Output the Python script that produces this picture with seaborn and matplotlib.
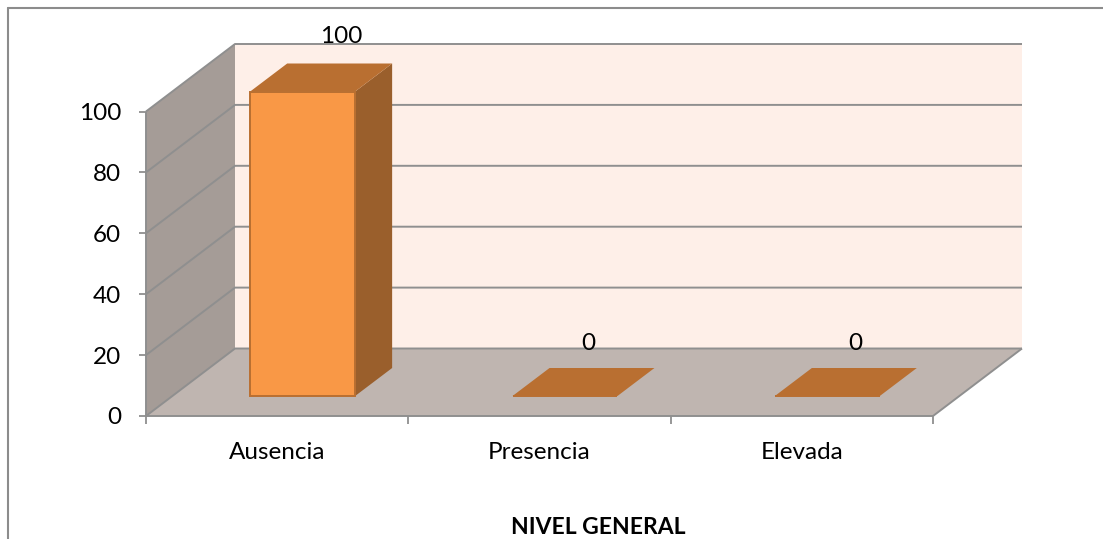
import matplotlib
matplotlib.use("Agg")
import matplotlib.pyplot as plt
import seaborn as sns
from matplotlib.lines import Line2D
from matplotlib.patches import Polygon
from matplotlib.transforms import Affine2D, IdentityTransform

# Chart content
categories = ["Ausencia", "Presencia", "Elevada"]
values = [100, 0, 0]
y_ticks = [0, 20, 40, 60, 80, 100]
x_title = "NIVEL GENERAL"

# Pseudo-3D layout, in pixels
FLOOR_DEPTH = (89, 67.5)
BAR_SHIFT = (25.5, 20)
BAR_DEPTH = (37, 28)
label_shift = [64.5, 49, 53]
label_lift = [75, 73, 73]

WALL_BACK = "#FEEFE8"
WALL_SIDE = "#A59C97"
FLOOR = "#BFB5B0"
GRID = "#8F8F8F"
BAR_FRONT = "#F99846"
BAR_TOP = "#B96F31"
BAR_SIDE = "#9A5F2C"

sns.set_theme(style="white")
plt.rcParams["font.family"] = ["Lato", "DejaVu Sans"]

W, H = 1103, 539
fig = plt.figure(figsize=(W / 100, H / 100), dpi=100)
ax = fig.add_axes([146 / W, (H - 416) / H, 787 / W, 304.5 / H])

sns.barplot(x=categories, y=values, color=BAR_FRONT, saturation=1, width=0.4,
            linewidth=1.4, edgecolor=BAR_TOP, ax=ax, zorder=6)
ax.set_xlim(-0.5, 2.5)
ax.set_ylim(0, 100)


def px(x, y, dx=0.0, dy=0.0):
    """Screen position of a data point pushed back by (dx, dy) pixels."""
    sx, sy = ax.transData.transform((x, y))
    return sx + dx, sy + dy


def face(points, color, z, edge=None, lw=0.0):
    ax.add_patch(Polygon(points, closed=True, facecolor=color, edgecolor=edge or color,
                         linewidth=lw, transform=IdentityTransform(),
                         clip_on=False, zorder=z))


def rule(points, z=3, color=GRID, lw=1.4):
    xs, ys = zip(*points)
    ax.add_line(Line2D(xs, ys, color=color, linewidth=lw, transform=IdentityTransform(),
                       clip_on=False, zorder=z, solid_capstyle="butt"))


fx, fy = FLOOR_DEPTH
x0, x1 = ax.get_xlim()
top = y_ticks[-1]

# Walls and floor
face([px(x0, 0, fx, fy), px(x1, 0, fx, fy), px(x1, top, fx, fy), px(x0, top, fx, fy)], WALL_BACK, 1)
face([px(x0, 0), px(x0, 0, fx, fy), px(x0, top, fx, fy), px(x0, top)], WALL_SIDE, 1)
face([px(x0, 0), px(x1, 0), px(x1, 0, fx, fy), px(x0, 0, fx, fy)], FLOOR, 2)

# Gridlines running along both walls
for t in y_ticks:
    rule([px(x0, t), px(x0, t, fx, fy), px(x1, t, fx, fy)])
rule([px(x0, 0), px(x0, top)], z=4)
rule([px(x0, 0), px(x1, 0)], z=4)
rule([px(x1, 0), px(x1, 0, fx, fy)], z=4)

# Bars: the seaborn rectangle is the front face, the other faces extend from it
sx, sy = BAR_SHIFT
bx, by = BAR_DEPTH
for bar in ax.patches:
    if not isinstance(bar, plt.Rectangle):
        continue
    bar.set_transform(ax.transData + Affine2D().translate(sx, sy))
    bar.set_clip_on(False)
    left, right, height = bar.get_x(), bar.get_x() + bar.get_width(), bar.get_height()
    face([px(left, height, sx, sy), px(right, height, sx, sy),
          px(right, height, sx + bx, sy + by), px(left, height, sx + bx, sy + by)],
         BAR_TOP, 7)
    if height > 0:
        face([px(right, 0, sx, sy), px(right, 0, sx + bx, sy + by),
              px(right, height, sx + bx, sy + by), px(right, height, sx, sy)],
             BAR_SIDE, 5)

# Value labels
for i, value in enumerate(values):
    lx, ly = px(i, value, label_shift[i], label_lift[i])
    ax.text(lx, ly, str(value), transform=IdentityTransform(), ha="center", va="center",
            fontsize=17.5, color="black", zorder=9, clip_on=False)

# Axes furniture
for spine in ax.spines.values():
    spine.set_visible(False)
ax.patch.set_visible(False)
ax.set_yticks(y_ticks)
ax.set_xticks([-0.5, 0.5, 1.5, 2.5], minor=True)
ax.tick_params(axis="y", which="major", left=True, length=5, width=1.3, color=GRID,
               labelsize=17.5, labelcolor="black", pad=13)
ax.tick_params(axis="x", which="minor", bottom=True, length=5.5, width=1.3, color=GRID)
ax.tick_params(axis="x", which="major", bottom=False, labelsize=17.5, labelcolor="black", pad=13)
ax.set_ylabel("")
fig.text(598 / W, (H - 527) / H, x_title, ha="center", va="center",
         fontsize=16.5, fontweight="bold", color="black")

# Outer frame of the chart area
for seg in (((7.5, 7.5), (H - 8, 0)), ((7.5, W), (H - 8, H - 8))):
    fig.add_artist(Line2D([seg[0][0] / W, seg[0][1] / W], [seg[1][0] / H, seg[1][1] / H],
                          color="#8C8C8C", linewidth=1.5, transform=fig.transFigure))

fig.savefig("out.png", dpi=100, facecolor="white")
